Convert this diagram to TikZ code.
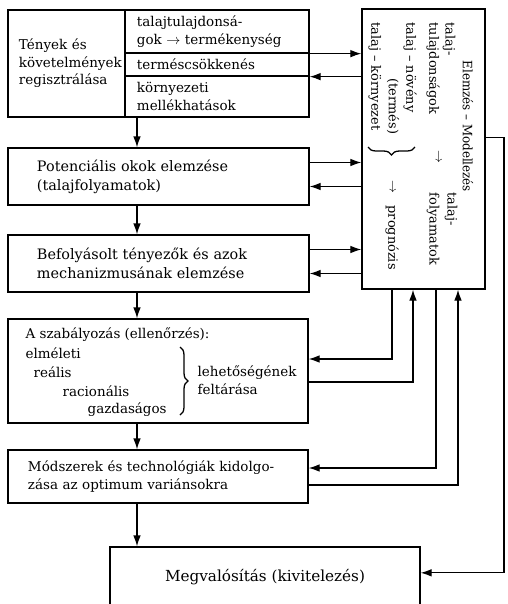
\documentclass[tikz,border=0pt]{standalone}
\usepackage{fontspec}
\setmainfont{DejaVu Serif}
\usetikzlibrary{arrows.meta,decorations.pathreplacing,calc}

\begin{document}
\begin{tikzpicture}[x=0.03cm,y=-0.03cm,
    >={Latex[length=3.3mm,width=2.3mm]},
    line width=1.1pt,
    box/.style={draw,line width=1.1pt,align=left,inner ysep=0pt,font=\fontsize{11.5}{15}\selectfont},
    rtext/.style={rotate=-90,anchor=west,inner sep=0pt,font=\fontsize{11}{15}\selectfont},
    ptext/.style={anchor=west,inner sep=0pt,align=left,font=\fontsize{11.5}{15}\selectfont}]

\useasboundingbox (0,0) rectangle (508,604);
\clip (0,0) rectangle (508,604);

% Registration block
\node[box,minimum width=3.51cm,minimum height=3.21cm,text width=2.85cm,inner xsep=0.33cm] (reg) at (66.5,63.5) {Tények és\\követelmények\\regisztrálása};
\node[box,minimum width=5.52cm,minimum height=1.29cm,text width=4.8cm,inner xsep=0.36cm] (cell1) at (217,31.5) {talajtulajdonsá-\\gok $\rightarrow$ termékenység};
\node[box,minimum width=5.52cm,minimum height=0.69cm,text width=4.8cm,inner xsep=0.36cm] (cell2) at (217,64.5) {terméscsökkenés};
\node[box,minimum width=5.52cm,minimum height=1.23cm,text width=4.8cm,inner xsep=0.36cm] (cell3) at (217,96.5) {környezeti\\mellékhatások};

% Main chain
\node[box,minimum width=9.03cm,minimum height=1.71cm,text width=7.29cm,inner xsep=0.87cm,font=\fontsize{12.3}{16}\selectfont] (pot) at (158.5,176.5) {Potenciális okok elemzése\\(talajfolyamatok)};
\node[box,minimum width=9.03cm,minimum height=1.71cm,text width=7.29cm,inner xsep=0.87cm,font=\fontsize{12.3}{16}\selectfont] (bef) at (158.5,263.5) {Befolyásolt tényezők és azok\\mechanizmusának elemzése};
\node[box,minimum width=9cm,minimum height=3.12cm] (szab) at (158,371) {};
\node[box,minimum width=9cm,minimum height=1.59cm,text width=7.8cm,inner xsep=0.6cm] (mod) at (158,476.5) {Módszerek és technológiák kidolgo-\\zása az optimum variánsokra};
\node[box,minimum width=9.3cm,minimum height=1.83cm,align=center,font=\fontsize{13}{16}\selectfont] (megv) at (265,577.5) {Megvalósítás (kivitelezés)};

% Szabalyozas content
\node[ptext] (szab0) at (25,335) {A szabályozás (ellenőrzés):};
\node[ptext] (elm) at (25,353) {elméleti};
\node[ptext] (real) at (33,372) {reális};
\node[ptext] (rac) at (62,391) {racionális};
\node[ptext] (gazd) at (87,410) {gazdaságos};
\draw[decorate,decoration={brace,amplitude=0.24cm}] (180,347) -- (180,415);
\node[ptext] (leh) at (197,380) {lehetőségének\\feltárása};

% Modelling block
\node[box,minimum width=3.69cm,minimum height=8.4cm] (elem) at (423.5,149) {};
\node[rtext] (elemtitle) at (468,60) {\scalebox{0.92}[1]{Elemzés – Modellezés}};
\node[rtext] (tul1) at (449,22) {talaj-};
\node[rtext] (tul2) at (433,22) {tulajdonságok};
\node[rtext] (tn) at (410,22) {talaj – növény};
\node[rtext] (term) at (393,78) {(termés)};
\node[rtext] (tk) at (375,22) {talaj – környezet};
\node[rtext,anchor=center] (nyil1) at (438,157) {$\rightarrow$};
\node[rtext,anchor=center] (nyil2) at (392,187) {$\rightarrow$};
\node[rtext] (progn) at (392,205) {prognózis};
\node[rtext] (foly1) at (451,192) {talaj-};
\node[rtext] (foly2) at (433,192) {folyamatok};
\draw[decorate,decoration={brace,amplitude=0.24cm}] (415,147) -- (368,147);

% Down arrows
\coordinate (ax) at (137,0);
\draw[->] (cell3.south -| ax) -- (pot.north -| ax);
\draw[->] (pot.south -| ax) -- (bef.north -| ax);
\draw[->] (bef.south -| ax) -- (szab.north -| ax);
\draw[->] (szab.south -| ax) -- (mod.north -| ax);
\draw[->] (mod.south -| ax) -- (megv.north -| ax);

% Links to the modelling block
\draw[->] (cell1.south east) -- (cell1.south east -| elem.west);
\draw[<-] (cell2.south east) -- (cell2.south east -| elem.west);
\coordinate (potout) at ([yshift=0.42cm]pot.east);
\coordinate (potin) at ([yshift=-0.3cm]pot.east);
\draw[->] (potout) -- (potout -| elem.west);
\draw[<-] (potin) -- (potin -| elem.west);
\coordinate (befout) at ([yshift=0.42cm]bef.east);
\coordinate (befin) at ([yshift=-0.3cm]bef.east);
\draw[->] (befout) -- (befout -| elem.west);
\draw[<-] (befin) -- (befin -| elem.west);

% Feedback from below
\coordinate (fa) at (392,0);
\coordinate (fb) at (413,0);
\coordinate (fc) at (436,0);
\coordinate (fd) at (458,0);
\coordinate (fe) at (504,0);
\coordinate (szabin) at ([yshift=0.36cm]szab.east);
\coordinate (szabout) at ([yshift=-0.33cm]szab.east);
\draw[->] (elem.south -| fa) |- (szabin);
\draw[->] (szabout) -| (elem.south -| fb);
\coordinate (modin) at ([yshift=0.255cm]mod.east);
\coordinate (modout) at ([yshift=-0.255cm]mod.east);
\draw[->] (elem.south -| fc) |- (modin);
\draw[->] (modout) -| (elem.south -| fd);
\coordinate (elemout) at ([yshift=0.35cm]elem.east);
\coordinate (megvin) at ([yshift=0.14cm]megv.east);
\draw[->] (elemout) -| (megvin -| fe) -- (megvin);
\end{tikzpicture}
\end{document}
